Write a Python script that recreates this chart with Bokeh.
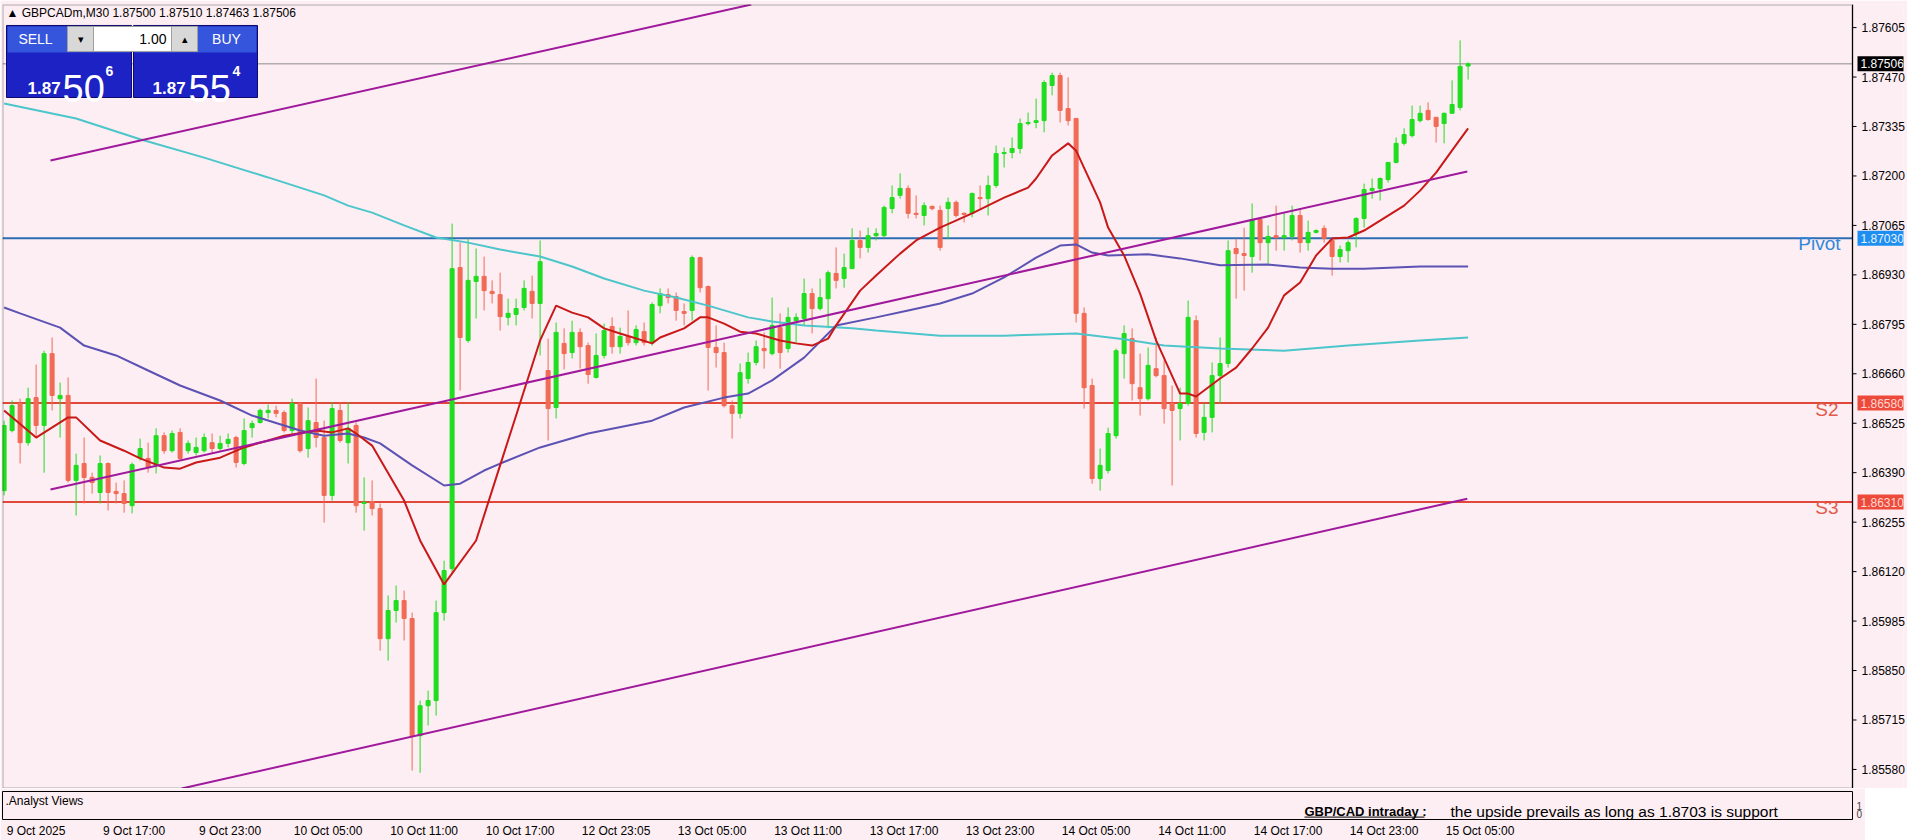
from bokeh.plotting import figure
from bokeh.models import (Range1d, LinearAxis, FixedTicker, PrintfTickFormatter, Span,
                          Label, BoxAnnotation, ColumnDataSource)
from bokeh.layouts import column
from bokeh.embed import file_html
from bokeh.resources import INLINE

# ---------------- data (GBPCADm, M30) ----------------
open_ = [1.86341, 1.86505, 1.86579, 1.86472, 1.86595, 1.86519, 1.86715, 1.86592, 1.86601, 1.86369,
         1.86415, 1.86377, 1.86336, 1.86415, 1.86339, 1.86333, 1.86300, 1.86431, 1.86429, 1.86410,
         1.86491, 1.86450, 1.86500, 1.86450, 1.86445, 1.86450, 1.86472, 1.86456, 1.86470, 1.86486,
         1.86415, 1.86513, 1.86527, 1.86554, 1.86560, 1.86554, 1.86505, 1.86579, 1.86456, 1.86527,
         1.86486, 1.86328, 1.86560, 1.86472, 1.86519, 1.86306, 1.86311, 1.86292, 1.85937, 1.86014,
         1.86041, 1.85992, 1.85672, 1.85754, 1.85768, 1.86008, 1.86128, 1.86950, 1.86751, 1.86912,
         1.86926, 1.86885, 1.86876, 1.86814, 1.86822, 1.86841, 1.86885, 1.86852, 1.86669, 1.86568,
         1.86743, 1.86718, 1.86773, 1.86737, 1.86650, 1.86710, 1.86789, 1.86734, 1.86762, 1.86745,
         1.86775, 1.86745, 1.86846, 1.86876, 1.86871, 1.86830, 1.86833, 1.86977, 1.86898, 1.86732,
         1.86718, 1.86573, 1.86552, 1.86647, 1.86691, 1.86729, 1.86715, 1.86786, 1.86729, 1.86805,
         1.86811, 1.86879, 1.86838, 1.86865, 1.86934, 1.86920, 1.86947, 1.87024, 1.87005, 1.87037,
         1.87037, 1.87111, 1.87147, 1.87166, 1.87098, 1.87092, 1.87117, 1.87106, 1.87111, 1.87128,
         1.87098, 1.87098, 1.87141, 1.87138, 1.87174, 1.87261, 1.87264, 1.87275, 1.87343, 1.87346,
         1.87351, 1.87447, 1.87474, 1.87384, 1.87357, 1.86825, 1.86628, 1.86374, 1.86396, 1.86491,
         1.86715, 1.86756, 1.86622, 1.86592, 1.86674, 1.86655, 1.86579, 1.86565, 1.86579, 1.86805,
         1.86500, 1.86541, 1.86655, 1.86688, 1.87002, 1.86988, 1.86980, 1.87081, 1.87018, 1.87037,
         1.87032, 1.87035, 1.87092, 1.87018, 1.87046, 1.87057, 1.87024, 1.86980, 1.86996, 1.87043,
         1.87084, 1.87160, 1.87166, 1.87190, 1.87237, 1.87289, 1.87310, 1.87351, 1.87379, 1.87360,
         1.87343, 1.87371, 1.87387, 1.87500]
high = [1.86532, 1.86587, 1.86592, 1.86622, 1.86685, 1.86723, 1.86759, 1.86636, 1.86650, 1.86442,
        1.86486, 1.86390, 1.86437, 1.86418, 1.86363, 1.86369, 1.86418, 1.86483, 1.86472, 1.86511,
        1.86500, 1.86505, 1.86511, 1.86478, 1.86486, 1.86497, 1.86497, 1.86491, 1.86497, 1.86491,
        1.86538, 1.86532, 1.86565, 1.86576, 1.86573, 1.86560, 1.86592, 1.86582, 1.86568, 1.86647,
        1.86532, 1.86582, 1.86582, 1.86582, 1.86527, 1.86377, 1.86369, 1.86306, 1.86055, 1.86082,
        1.86068, 1.86008, 1.85768, 1.85795, 1.86041, 1.86150, 1.87070, 1.87018, 1.87029, 1.87002,
        1.86980, 1.86915, 1.86936, 1.86865, 1.86865, 1.86915, 1.86928, 1.87024, 1.86756, 1.86800,
        1.86784, 1.86805, 1.86784, 1.86745, 1.86770, 1.86797, 1.86814, 1.86786, 1.86833, 1.86792,
        1.86800, 1.86855, 1.86893, 1.86893, 1.86882, 1.86852, 1.86983, 1.86980, 1.86901, 1.86792,
        1.86745, 1.86587, 1.86688, 1.86718, 1.86751, 1.86773, 1.86868, 1.86825, 1.86841, 1.86825,
        1.86920, 1.86893, 1.86920, 1.86942, 1.87005, 1.86988, 1.87057, 1.87051, 1.87059, 1.87057,
        1.87119, 1.87174, 1.87207, 1.87174, 1.87147, 1.87128, 1.87119, 1.87119, 1.87141, 1.87133,
        1.87100, 1.87155, 1.87174, 1.87201, 1.87283, 1.87278, 1.87305, 1.87357, 1.87373, 1.87411,
        1.87461, 1.87482, 1.87482, 1.87469, 1.87357, 1.86841, 1.86647, 1.86456, 1.86513, 1.86729,
        1.86792, 1.86784, 1.86715, 1.86732, 1.86759, 1.86696, 1.86628, 1.86622, 1.86860, 1.86819,
        1.86579, 1.86691, 1.86759, 1.87024, 1.87029, 1.87059, 1.87125, 1.87087, 1.87065, 1.87119,
        1.87098, 1.87119, 1.87111, 1.87078, 1.87054, 1.87065, 1.87032, 1.87010, 1.87024, 1.87087,
        1.87179, 1.87193, 1.87196, 1.87237, 1.87305, 1.87330, 1.87392, 1.87392, 1.87401, 1.87360,
        1.87373, 1.87461, 1.87570, 1.87510]
low = [1.86328, 1.86500, 1.86415, 1.86464, 1.86486, 1.86390, 1.86560, 1.86486, 1.86363, 1.86273,
       1.86306, 1.86333, 1.86306, 1.86287, 1.86306, 1.86281, 1.86279, 1.86423, 1.86390, 1.86388,
       1.86442, 1.86445, 1.86423, 1.86442, 1.86437, 1.86445, 1.86442, 1.86450, 1.86459, 1.86404,
       1.86410, 1.86486, 1.86524, 1.86538, 1.86541, 1.86500, 1.86497, 1.86445, 1.86431, 1.86459,
       1.86254, 1.86314, 1.86472, 1.86415, 1.86281, 1.86232, 1.86273, 1.85904, 1.85877, 1.85981,
       1.85932, 1.85577, 1.85571, 1.85700, 1.85727, 1.85986, 1.86117, 1.86614, 1.86745, 1.86811,
       1.86833, 1.86852, 1.86778, 1.86792, 1.86792, 1.86833, 1.86811, 1.86710, 1.86478, 1.86538,
       1.86672, 1.86702, 1.86674, 1.86633, 1.86647, 1.86702, 1.86715, 1.86715, 1.86737, 1.86737,
       1.86737, 1.86737, 1.86825, 1.86852, 1.86805, 1.86792, 1.86805, 1.86882, 1.86614, 1.86677,
       1.86568, 1.86483, 1.86538, 1.86633, 1.86683, 1.86674, 1.86710, 1.86674, 1.86718, 1.86745,
       1.86792, 1.86770, 1.86833, 1.86784, 1.86893, 1.86895, 1.86947, 1.86975, 1.86991, 1.87024,
       1.87032, 1.87098, 1.87138, 1.87084, 1.87084, 1.87065, 1.87106, 1.86996, 1.87029, 1.87087,
       1.87073, 1.87087, 1.87111, 1.87092, 1.87168, 1.87223, 1.87248, 1.87261, 1.87338, 1.87330,
       1.87319, 1.87420, 1.87346, 1.87338, 1.86800, 1.86565, 1.86360, 1.86341, 1.86388, 1.86483,
       1.86647, 1.86587, 1.86546, 1.86587, 1.86650, 1.86524, 1.86355, 1.86478, 1.86573, 1.86486,
       1.86478, 1.86500, 1.86579, 1.86677, 1.86865, 1.86887, 1.86936, 1.86969, 1.86961, 1.86996,
       1.86996, 1.87024, 1.86991, 1.86996, 1.87043, 1.87018, 1.86928, 1.86964, 1.86964, 1.87005,
       1.87059, 1.87138, 1.87133, 1.87182, 1.87234, 1.87283, 1.87305, 1.87346, 1.87351, 1.87291,
       1.87289, 1.87371, 1.87379, 1.87463]
close = [1.86519, 1.86573, 1.86472, 1.86592, 1.86519, 1.86715, 1.86601, 1.86601, 1.86369, 1.86410,
         1.86377, 1.86363, 1.86415, 1.86336, 1.86333, 1.86306, 1.86412, 1.86456, 1.86404, 1.86491,
         1.86450, 1.86497, 1.86429, 1.86470, 1.86459, 1.86486, 1.86456, 1.86470, 1.86481, 1.86418,
         1.86505, 1.86524, 1.86560, 1.86560, 1.86552, 1.86505, 1.86579, 1.86450, 1.86532, 1.86486,
         1.86328, 1.86565, 1.86478, 1.86511, 1.86300, 1.86309, 1.86292, 1.85937, 1.86014, 1.86041,
         1.85992, 1.85672, 1.85754, 1.85768, 1.86008, 1.86123, 1.86947, 1.86759, 1.86915, 1.86926,
         1.86887, 1.86879, 1.86816, 1.86825, 1.86838, 1.86893, 1.86852, 1.86966, 1.86565, 1.86773,
         1.86715, 1.86773, 1.86734, 1.86658, 1.86710, 1.86778, 1.86734, 1.86762, 1.86745, 1.86781,
         1.86745, 1.86849, 1.86879, 1.86868, 1.86833, 1.86825, 1.86977, 1.86895, 1.86732, 1.86718,
         1.86573, 1.86552, 1.86663, 1.86691, 1.86734, 1.86723, 1.86792, 1.86718, 1.86814, 1.86814,
         1.86879, 1.86838, 1.86868, 1.86936, 1.86915, 1.86950, 1.87024, 1.87005, 1.87037, 1.87043,
         1.87114, 1.87141, 1.87166, 1.87098, 1.87095, 1.87119, 1.87111, 1.87005, 1.87128, 1.87092,
         1.87095, 1.87152, 1.87138, 1.87174, 1.87261, 1.87264, 1.87275, 1.87343, 1.87346, 1.87351,
         1.87455, 1.87474, 1.87379, 1.87351, 1.86825, 1.86622, 1.86374, 1.86410, 1.86497, 1.86723,
         1.86770, 1.86633, 1.86592, 1.86683, 1.86655, 1.86565, 1.86560, 1.86579, 1.86814, 1.86497,
         1.86541, 1.86655, 1.86688, 1.86996, 1.86988, 1.86983, 1.87081, 1.87018, 1.87035, 1.87032,
         1.87037, 1.87092, 1.87018, 1.87046, 1.87051, 1.87029, 1.86980, 1.86999, 1.87018, 1.87084,
         1.87163, 1.87166, 1.87193, 1.87237, 1.87289, 1.87313, 1.87354, 1.87371, 1.87354, 1.87335,
         1.87371, 1.87395, 1.87499, 1.87506]

fast_ma_bar = [0, 4, 8, 9, 12, 15, 17, 20, 22, 24, 27, 30, 33, 35, 39, 41, 43, 44, 46, 50,
               52, 55, 59, 62, 64, 67, 69, 71, 73, 75, 77, 81, 82, 85, 87, 88, 90, 92, 94, 97,
               99, 101, 103, 104, 107, 109, 112, 114, 117, 121, 125, 128, 129, 131, 133, 134, 137, 138, 140, 142,
               144, 147, 148, 149, 152, 154, 156, 158, 160, 162, 164, 166, 168, 170, 172, 175, 177, 179, 181, 183]
fast_ma_val = [1.86560, 1.86486, 1.86541, 1.86541, 1.86478, 1.86450, 1.86429, 1.86404, 1.86401, 1.86418,
               1.86431, 1.86459, 1.86478, 1.86491, 1.86505, 1.86500, 1.86511, 1.86497, 1.86464, 1.86314,
               1.86205, 1.86085, 1.86205, 1.86410, 1.86546, 1.86751, 1.86846, 1.86827, 1.86814, 1.86784,
               1.86770, 1.86743, 1.86759, 1.86784, 1.86814, 1.86814, 1.86797, 1.86775, 1.86770, 1.86751,
               1.86743, 1.86737, 1.86756, 1.86792, 1.86887, 1.86928, 1.86988, 1.87024, 1.87059, 1.87098,
               1.87141, 1.87168, 1.87193, 1.87256, 1.87289, 1.87269, 1.87128, 1.87059, 1.86983, 1.86879,
               1.86751, 1.86606, 1.86606, 1.86598, 1.86647, 1.86677, 1.86729, 1.86786, 1.86874, 1.86909,
               1.86983, 1.87029, 1.87032, 1.87051, 1.87078, 1.87119, 1.87160, 1.87209, 1.87270, 1.87330]
mid_ma_bar = [0, 2, 7, 10, 14, 18, 22, 27, 31, 35, 37, 40, 43, 45, 47, 51, 55, 57, 60, 62,
              67, 73, 81, 85, 90, 93, 96, 100, 104, 109, 113, 117, 121, 125, 129, 132, 134, 136, 138, 143,
              147, 152, 158, 162, 166, 170, 177, 183]
mid_ma_val = [1.86841, 1.86825, 1.86786, 1.86737, 1.86710, 1.86669, 1.86628, 1.86587, 1.86546, 1.86519,
              1.86505, 1.86491, 1.86497, 1.86486, 1.86470, 1.86410, 1.86355, 1.86360, 1.86396, 1.86415,
              1.86459, 1.86497, 1.86532, 1.86568, 1.86595, 1.86606, 1.86642, 1.86704, 1.86792, 1.86814,
              1.86833, 1.86852, 1.86879, 1.86923, 1.86977, 1.87010, 1.87013, 1.86991, 1.86983, 1.86986,
              1.86975, 1.86956, 1.86958, 1.86950, 1.86947, 1.86947, 1.86953, 1.86953]
slow_ma_bar = [0, 9, 17, 25, 33, 40, 43, 46, 50, 54, 58, 62, 67, 71, 75, 80, 84, 88, 93, 96,
               100, 106, 109, 117, 125, 134, 140, 145, 152, 160, 168, 177, 183]
slow_ma_val = [1.87398, 1.87357, 1.87300, 1.87250, 1.87196, 1.87147, 1.87119, 1.87100, 1.87065, 1.87032,
               1.87018, 1.86999, 1.86980, 1.86953, 1.86920, 1.86887, 1.86868, 1.86846, 1.86814, 1.86803,
               1.86792, 1.86784, 1.86778, 1.86764, 1.86764, 1.86770, 1.86754, 1.86737, 1.86729, 1.86723,
               1.86737, 1.86751, 1.86759]

# channel trend lines (bar, price)
channel_upper_bar = [5.8, 93.4]
channel_upper_val = [1.87242, 1.87668]
channel_mid_bar = [5.8, 182.9]
channel_mid_val = [1.86344, 1.87212]
channel_low_bar = [22.2, 182.9]
channel_low_val = [1.85528, 1.86319]

# levels
pivot_level = 1.87030
s2_level = 1.86580
s3_level = 1.86310
last_price = 1.87506

price_ticks = [1.85580, 1.85715, 1.85850, 1.85985, 1.86120, 1.86255, 1.86390, 1.86525,
               1.86660, 1.86795, 1.86930, 1.87065, 1.87200, 1.87335, 1.87470, 1.87605]
time_bars = [0, 12, 24, 36, 48, 60, 72, 84, 96, 108, 120, 132, 144, 156, 168, 180]
time_labels = ["9 Oct 2025", "9 Oct 17:00", "9 Oct 23:00", "10 Oct 05:00", "10 Oct 11:00",
               "10 Oct 17:00", "12 Oct 23:05", "13 Oct 05:00", "13 Oct 11:00", "13 Oct 17:00",
               "13 Oct 23:00", "14 Oct 05:00", "14 Oct 11:00", "14 Oct 17:00", "14 Oct 23:00",
               "15 Oct 05:00"]

# ---------------- layout / style ----------------
BG = "#FDEEF3"
FONT = "Liberation Sans"
BULL = "#1FDD1F"
BEAR = "#F06A55"
PXB = 8.0                        # pixels per bar
FW1, FH1 = 1901, 784             # main frame (incl. price-scale strip)
FW2, FH2 = 1850, 28              # indicator sub-window
X0 = -0.2
X_SEP = X0 + 1850 / PXB          # price-scale separator
Y0, Y1 = 1.85528, 1.87668


def rx(px):
    """reference pixel x -> bar coordinate"""
    return (px - 3.6) / PXB


def ry(py):
    """reference pixel y -> price coordinate"""
    return 1.87679 - 0.0000273 * py


p1 = figure(frame_width=FW1, frame_height=FH1, x_range=Range1d(X0, X0 + FW1 / PXB),
            y_range=Range1d(Y0, Y1), output_backend="svg", toolbar_location=None,
            x_axis_location=None, y_axis_location=None,
            background_fill_color=BG, border_fill_color=BG, outline_line_color=None,
            min_border_left=2, min_border_right=4, min_border_top=4, min_border_bottom=0)
p1.grid.grid_line_color = None

# price scale: labels drawn back into the strip right of the separator
yax = LinearAxis(ticker=FixedTicker(ticks=price_ticks), formatter=PrintfTickFormatter(format="%.5f"),
                 major_tick_in=0, major_tick_out=0, major_tick_line_color=None,
                 minor_tick_line_color=None, axis_line_color=None,
                 major_label_text_font=FONT, major_label_text_font_size="12px",
                 major_label_text_color="black", major_label_standoff=-42)
p1.add_layout(yax, "right")
p1.add_layout(Span(location=X_SEP, dimension="height", line_color="black", line_width=1))
p1.segment(x0=[X_SEP] * len(price_ticks), y0=price_ticks, x1=[X_SEP + 0.5] * len(price_ticks),
           y1=price_ticks, line_color="black", line_width=1)

# horizontal levels (stop at the separator)
p1.line([X0, X_SEP], [last_price, last_price], line_color="#8C8C8C", line_width=1)
p1.line([X0, X_SEP], [pivot_level, pivot_level], line_color="#2C6DB4", line_width=2)
p1.line([X0, X_SEP], [s2_level, s2_level], line_color="#E0483A", line_width=2)
p1.line([X0, X_SEP], [s3_level, s3_level], line_color="#E0483A", line_width=2)

# candles
idx = list(range(len(close)))
colors = [BULL if c >= o else BEAR for o, c in zip(open_, close)]
src = ColumnDataSource(dict(x=idx, top=[max(o, c) for o, c in zip(open_, close)],
                            bottom=[min(o, c) for o, c in zip(open_, close)],
                            high=high, low=low, color=colors))
p1.segment(x0="x", y0="low", x1="x", y1="high", line_color="color", line_width=1, source=src)
p1.vbar(x="x", width=0.5, top="top", bottom="bottom", fill_color="color", line_color="color",
        line_width=1, source=src)

# moving averages
p1.line(slow_ma_bar, slow_ma_val, line_color="#4CC6CA", line_width=2)
p1.line(mid_ma_bar, mid_ma_val, line_color="#5B52B3", line_width=2)
p1.line(fast_ma_bar, fast_ma_val, line_color="#C81818", line_width=2)

# channel
for bx, by in [(channel_upper_bar, channel_upper_val), (channel_mid_bar, channel_mid_val),
               (channel_low_bar, channel_low_val)]:
    p1.line(bx, by, line_color="#A0199C", line_width=2)

# chart border (left / top / bottom, right = separator)
p1.add_layout(BoxAnnotation(left=X0, right=X_SEP, top=Y1, bottom=Y0, fill_alpha=0.0,
                            fill_color=None, line_color="black", line_width=2))

# level names
p1.add_layout(Label(x=rx(1840), y=ry(243), text="Pivot", text_align="right", text_baseline="middle",
                    text_font=FONT, text_font_size="19px", text_color="#3388DA"))
p1.add_layout(Label(x=rx(1838), y=ry(409), text="S2", text_align="right", text_baseline="middle",
                    text_font=FONT, text_font_size="19px", text_color="#E35A4A"))
p1.add_layout(Label(x=rx(1838), y=ry(507), text="S3", text_align="right", text_baseline="middle",
                    text_font=FONT, text_font_size="19px", text_color="#E35A4A"))


# price tags on the scale
def tag(price, bg, fg):
    p1.add_layout(Label(x=X_SEP, y=price, x_offset=5, text="%.5f" % price, text_align="left",
                        text_baseline="middle", text_font=FONT, text_font_size="12px",
                        text_color=fg, background_fill_color=bg, background_fill_alpha=1.0,
                        padding=3))


tag(last_price, "#000000", "#FFFFFF")
tag(pivot_level, "#1E8FF0", "#E8F2FF")
tag(s2_level, "#EE4A3C", "#FFD8D0")
tag(s3_level, "#EE4A3C", "#FFD8D0")

# header
p1.add_layout(Label(x=rx(6), y=ry(13), text="\u25B2 GBPCADm,M30  1.87500 1.87510 1.87463 1.87506",
                    text_align="left", text_baseline="middle", text_font=FONT,
                    text_font_size="12px", text_color="black"))


# one-click trading panel
def box(l, r, t, b, fill, line=None):
    p1.add_layout(BoxAnnotation(left=rx(l), right=rx(r), top=ry(t), bottom=ry(b),
                                fill_color=fill, fill_alpha=1.0,
                                line_color=line, line_width=1, line_alpha=1.0 if line else 0.0))


def txt(x, y, s, size, color="white", align="left", base="alphabetic", style="normal"):
    p1.add_layout(Label(x=rx(x), y=ry(y), text=s, text_align=align, text_baseline=base,
                        text_font=FONT, text_font_size=size, text_color=color,
                        text_font_style=style))


box(6, 131, 25, 97, "#1C22C4", "#0A0A70")
box(133, 257, 25, 97, "#1C22C4", "#0A0A70")
box(7, 130, 26, 52, "#3556DC")
box(134, 256, 26, 52, "#3556DC")
box(67, 93, 26, 51, "#D8D8D8", "#A0A0A0")
box(93, 171, 26, 51, "#FFFFFF", "#A0A0A0")
box(171, 197, 26, 51, "#D8D8D8", "#A0A0A0")
txt(35, 39, "SELL", "14px", align="center", base="middle")
txt(226, 39, "BUY", "14px", align="center", base="middle")
txt(80, 39, "\u25BE", "11px", color="black", align="center", base="middle")
txt(184, 39, "\u25B4", "11px", color="black", align="center", base="middle")
txt(166, 39, "1.00", "14px", color="black", align="right", base="middle")
txt(27, 88, "1.87", "17px", style="bold")
txt(62, 88, "50", "38px")
txt(105, 71, "6", "14px", style="bold")
txt(152, 88, "1.87", "17px", style="bold")
txt(188, 88, "55", "38px")
txt(232, 71, "4", "14px", style="bold")

# ---------------- indicator sub-window with time axis ----------------
p2 = figure(frame_width=FW2, frame_height=FH2, x_range=Range1d(X0, X0 + FW2 / PXB),
            y_range=Range1d(-0.75, 2.75), output_backend="svg", toolbar_location=None,
            x_axis_location="below", y_axis_location=None, background_fill_color=BG,
            border_fill_color=BG, outline_line_color="black", outline_line_width=1,
            min_border_left=2, min_border_right=4, min_border_top=3, min_border_bottom=0)
p2.grid.grid_line_color = None

CW = {" ": 3.33, "O": 9.34, "c": 6.0, "t": 3.33, ":": 3.33}


def text_w(s):
    return sum(CW.get(ch, 6.67) for ch in s)


tick_pos = [b + round((text_w(t) / 2 + 2) / PXB * 4) / 4 for b, t in zip(time_bars, time_labels)]
xa = p2.xaxis[0]
xa.ticker = FixedTicker(ticks=tick_pos)
xa.major_label_overrides = {tp: t for tp, t in zip(tick_pos, time_labels)}
xa.axis_line_color = None
xa.major_tick_line_color = None
xa.major_tick_in = 0
xa.major_tick_out = 0
xa.minor_tick_line_color = None
xa.major_label_text_font = FONT
xa.major_label_text_font_size = "12px"
xa.major_label_text_color = "black"
xa.major_label_standoff = 4

p2.add_layout(LinearAxis(ticker=FixedTicker(ticks=[0, 1]), major_tick_line_color=None,
                         major_tick_in=0, major_tick_out=0,
                         minor_tick_line_color=None, axis_line_color=None,
                         major_label_text_font=FONT, major_label_text_font_size="10px",
                         major_label_standoff=4), "right")

p2.add_layout(Label(x=rx(5), y=1.6, text=".Analyst Views", text_align="left", text_baseline="middle",
                    text_font=FONT, text_font_size="12px", text_color="black"))
p2.add_layout(Label(x=rx(1304), y=0.3, text="GBP/CAD intraday :", text_align="left",
                    text_baseline="middle", text_font=FONT, text_font_size="13px",
                    text_font_style="bold", text_color="black"))
p2.segment(x0=[rx(1304)], y0=[-0.45], x1=[rx(1424)], y1=[-0.45], line_color="black", line_width=1)
p2.add_layout(Label(x=rx(1450), y=0.3, text="the upside prevails as long as 1.8703 is support",
                    text_align="left", text_baseline="middle", text_font=FONT,
                    text_font_size="15.5px", text_color="black"))

layout = column(p1, p2, spacing=0)
open("out.html", "w").write(file_html(layout, INLINE))
